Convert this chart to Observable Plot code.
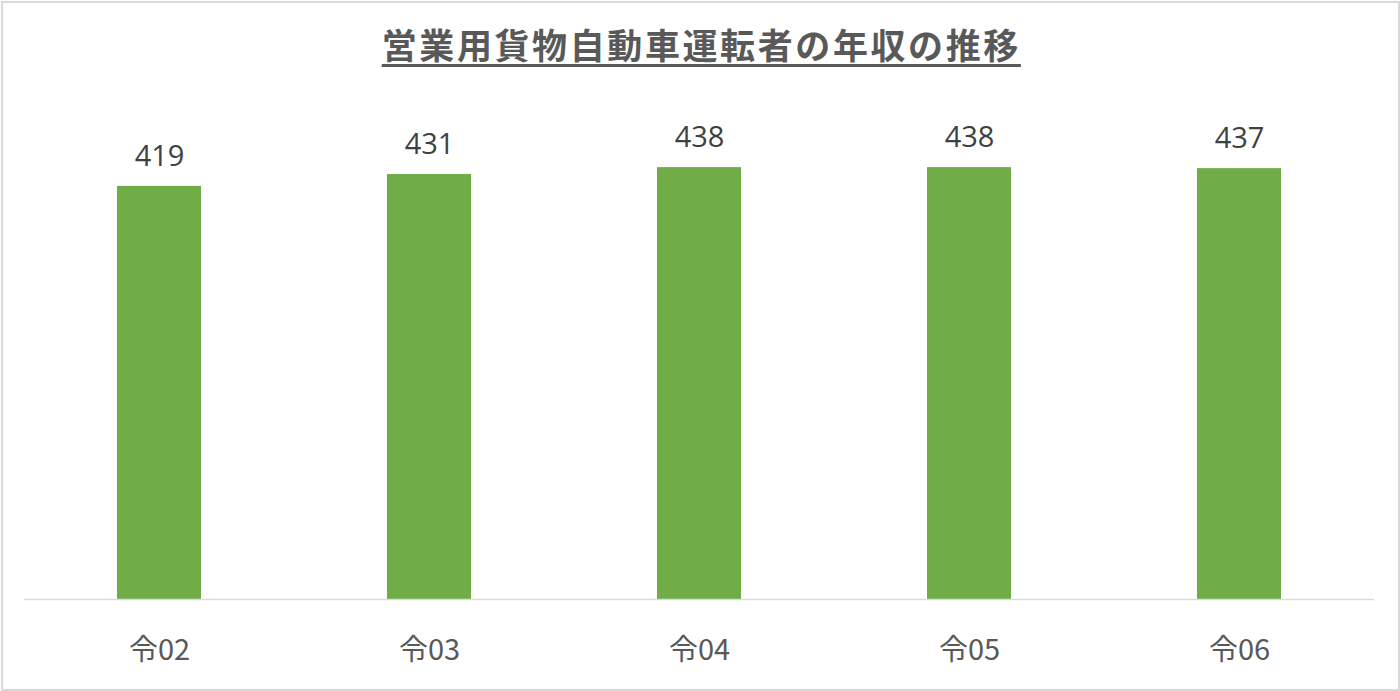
<!DOCTYPE html>
<html>
<head>
<meta charset="utf-8">
<script src="https://cdn.jsdelivr.net/npm/d3@7"></script>
<script src="https://cdn.jsdelivr.net/npm/@observablehq/plot@0.6"></script>
<style>
  html, body { margin: 0; padding: 0; background: #fff; }
  #wrap { position: relative; width: 1400px; height: 691px; overflow: hidden; }
  #frame { position: absolute; left: 1px; top: 1px; width: 1395px; height: 686px; border: 2px solid #d9d9d9; box-sizing: content-box; pointer-events: none; }
  #title { position: absolute; left: 0; top: 22px; width: 1400px; text-align: center;
    font-family: "Noto Sans CJK JP", sans-serif; font-weight: bold; font-size: 35px; letter-spacing: 2.6px;
    color: #595959; line-height: 44px; }
  #title span { text-decoration: underline; text-decoration-thickness: 3px; text-underline-offset: 5px; margin-right: -2.6px; }
  #chart { position: absolute; left: 0; top: 0; }
</style>
</head>
<body>
<div id="wrap">
  <div id="chart"></div>
  <div id="title"><span>営業用貨物自動車運転者の年収の推移</span></div>
  <div id="frame"></div>
</div>
<script>
const categories = ["令02", "令03", "令04", "令05", "令06"];
const values = [419, 431, 438, 438, 437];

const data = categories.map((c, i) => ({category: c, value: values[i]}));

const chart = Plot.plot({
  width: 1400,
  height: 691,
  marginTop: 106,
  marginBottom: 92,
  marginLeft: 24,
  marginRight: 26,
  style: {background: "transparent", fontFamily: "'Open Sans', 'Noto Sans CJK JP', sans-serif"},
  x: {domain: categories, paddingInner: 0.689, paddingOuter: 0.3445, label: null},
  y: {domain: [0, 500], axis: null},
  marks: [
    Plot.barY(data, {x: "category", y: "value", fill: "#70ad47"}),
    Plot.ruleY([0], {stroke: "#d9d9d9", strokeWidth: 1.5}),
    Plot.text(data, {x: "category", y: "value", text: d => String(d.value), dy: -30, fontSize: 29, fill: "#404040", fontFamily: "'Open Sans', sans-serif"}),
    Plot.axisX({tickSize: 0, tickPadding: 40, fontSize: 29, fill: "#595959", label: null, fontFamily: "'Noto Sans CJK JP', sans-serif"})
  ]
});
document.getElementById("chart").appendChild(chart);
</script>
</body>
</html>
